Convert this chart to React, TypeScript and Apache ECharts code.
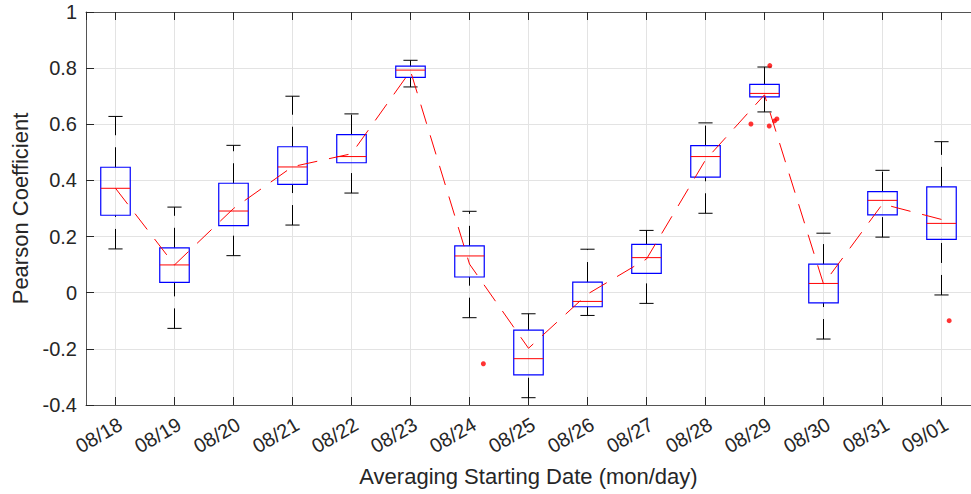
import React, { useEffect, useRef } from "react";
import * as echarts from "echarts";

const categories = ["08/18", "08/19", "08/20", "08/21", "08/22", "08/23", "08/24", "08/25", "08/26", "08/27", "08/28", "08/29", "08/30", "08/31", "09/01"];
const whiskerLow = [0.156, -0.127, 0.132, 0.241, 0.355, 0.733, -0.089, -0.374, -0.081, -0.038, 0.283, 0.644, -0.165, 0.198, -0.008];
const quartile1 = [0.276, 0.037, 0.239, 0.386, 0.463, 0.767, 0.056, -0.293, -0.05, 0.069, 0.412, 0.698, -0.036, 0.277, 0.19];
const medians = [0.372, 0.099, 0.291, 0.448, 0.485, 0.793, 0.131, -0.235, -0.031, 0.125, 0.485, 0.71, 0.033, 0.329, 0.247];
const quartile3 = [0.447, 0.16, 0.39, 0.52, 0.563, 0.807, 0.167, -0.133, 0.038, 0.172, 0.524, 0.742, 0.102, 0.36, 0.377];
const whiskerHigh = [0.628, 0.305, 0.525, 0.7, 0.637, 0.828, 0.29, -0.075, 0.155, 0.222, 0.605, 0.804, 0.212, 0.436, 0.538];
const meanValues = [0.372, 0.099, 0.3, 0.449, 0.495, 0.79, 0.102, -0.198, -0.005, 0.12, 0.473, 0.705, 0.031, 0.316, 0.261];
const outlierCategory = [6, 11, 11, 11, 11, 11, 14];
const outlierJitter = [0.235, 0.09, -0.23, 0.08, 0.17, 0.21, 0.13];
const outlierValue = [-0.253, 0.809, 0.601, 0.594, 0.612, 0.619, -0.0997];

const FONT = "'Liberation Sans', Arial, Helvetica, sans-serif";
const TEXT = "#262626";
const AXIS = "#555555";
const GRID = "#e3e3e3";

export default function App() {
  const ref = useRef<HTMLDivElement>(null);
  useEffect(() => {
    if (!ref.current) return;
    const chart = echarts.init(ref.current, undefined, { renderer: "svg" });
    const boxData = categories.map((_, i) => [i, whiskerLow[i], quartile1[i], medians[i], quartile3[i], whiskerHigh[i]]);
    const outliers = outlierValue.map((v, i) => [outlierCategory[i] + outlierJitter[i], v]);
    chart.setOption({
      animation: false,
      grid: { left: 86, right: -7.5, top: 12, bottom: 89, containLabel: false },
      xAxis: [
        {
          type: "category",
          data: categories,
          position: "bottom",
          boundaryGap: true,
          axisLine: { show: true, onZero: false, lineStyle: { color: AXIS, width: 1 } },
          axisTick: { show: true, inside: true, alignWithLabel: true, length: 8, lineStyle: { color: TEXT } },
          axisLabel: { interval: 0, rotate: 30, align: "right", verticalAlign: "top", margin: 9, fontSize: 20, color: TEXT, fontFamily: FONT },
          splitLine: { show: false },
          name: "Averaging Starting Date (mon/day)",
          nameLocation: "middle",
          nameGap: 60,
          nameTextStyle: { fontSize: 22, color: TEXT, fontFamily: FONT },
        },
        {
          type: "value",
          position: "top",
          min: -0.5,
          max: 14.5,
          splitNumber: 15,
          axisLine: { show: true, onZero: false, lineStyle: { color: AXIS, width: 1 } },
          axisTick: { show: true, inside: true, length: 8, lineStyle: { color: TEXT } },
          axisLabel: { show: false },
          splitLine: { show: true, lineStyle: { color: GRID, width: 1 } },
        },
      ],
      yAxis: [
        {
          type: "value",
          min: -0.4,
          max: 1,
          interval: 0.2,
          axisLine: { show: true, onZero: false, lineStyle: { color: AXIS, width: 1 } },
          axisTick: { show: true, inside: true, length: 8, lineStyle: { color: TEXT } },
          axisLabel: { fontSize: 20, color: TEXT, fontFamily: FONT, margin: 9 },
          splitLine: { show: true, lineStyle: { color: GRID, width: 1 } },
          name: "Pearson Coefficient",
          nameLocation: "middle",
          nameGap: 53,
          nameTextStyle: { fontSize: 22, color: TEXT, fontFamily: FONT },
        },
      ],
      series: [
        {
          type: "custom",
          xAxisIndex: 0,
          yAxisIndex: 0,
          data: boxData,
          encode: { x: 0, y: [1, 2, 3, 4, 5] },
          z: 3,
          renderItem: (params: any, api: any) => {
            const x = api.value(0);
            const low = api.coord([x, api.value(1)]);
            const q1 = api.coord([x, api.value(2)]);
            const med = api.coord([x, api.value(3)]);
            const q3 = api.coord([x, api.value(4)]);
            const high = api.coord([x, api.value(5)]);
            const band = api.size([1, 0])[0];
            const hb = band * 0.25;
            const hc = band * 0.12;
            const cx = low[0];
            const whisk = { stroke: "#000000", lineWidth: 1, lineDash: [20, 12], fill: null };
            const solid = { stroke: "#000000", lineWidth: 1, fill: null };
            return {
              type: "group",
              children: [
                { type: "line", shape: { x1: cx, y1: low[1], x2: cx, y2: q1[1] }, style: whisk },
                { type: "line", shape: { x1: cx, y1: q3[1], x2: cx, y2: high[1] }, style: whisk },
                { type: "line", shape: { x1: cx - hc, y1: low[1], x2: cx + hc, y2: low[1] }, style: solid },
                { type: "line", shape: { x1: cx - hc, y1: high[1], x2: cx + hc, y2: high[1] }, style: solid },
                { type: "rect", shape: { x: cx - hb, y: q3[1], width: hb * 2, height: q1[1] - q3[1] }, style: { stroke: "#0000ff", lineWidth: 1.2, fill: null } },
                { type: "line", shape: { x1: cx - hb, y1: med[1], x2: cx + hb, y2: med[1] }, style: { stroke: "#ff0000", lineWidth: 1 } },
              ],
            };
          },
        },
        {
          type: "line",
          xAxisIndex: 0,
          yAxisIndex: 0,
          data: meanValues,
          showSymbol: false,
          symbol: "none",
          z: 4,
          lineStyle: { color: "#ff0000", width: 1, type: [20, 12] },
        },
        {
          type: "scatter",
          xAxisIndex: 1,
          yAxisIndex: 0,
          data: outliers,
          symbol: "circle",
          symbolSize: 5,
          z: 5,
          itemStyle: { color: "#ff0000" },
        },
      ],
    });
    return () => chart.dispose();
  }, []);
  return <div ref={ref} style={{ position: "fixed", left: 0, top: 0, width: 971, height: 494, background: "#ffffff" }} />;
}
